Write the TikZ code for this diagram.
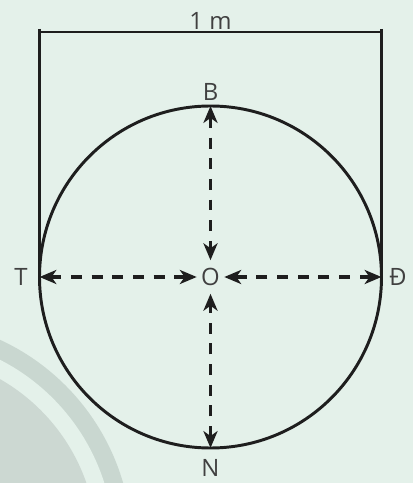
\documentclass[tikz,border=0pt]{standalone}
\usepackage{fontspec}
\setmainfont{Open Sans}
\usetikzlibrary{arrows.meta}
\definecolor{bgmint}{RGB}{228,241,234}
\definecolor{bandgrey}{RGB}{201,215,208}
\definecolor{discgrey}{RGB}{204,216,210}
\definecolor{inkdark}{RGB}{30,30,30}
\begin{document}
\begin{tikzpicture}[line join=round, >={Stealth[length=12pt,width=10pt,inset=3.5pt]},
	font=\fontsize{17}{20}\selectfont, every node/.style={text=inkdark!85!white},
	dir/.style={<->, draw=inkdark, dash pattern=on 7.8pt off 6.9pt, line width=2.3pt}]
	\def\R{4.275}
	% nen va hinh trang tri
	\fill[bgmint] (-5.2625,-5.15) rectangle (5.0625,6.925);
	\begin{scope}
		\clip (-5.2625,-5.15) rectangle (5.0625,6.925);
		\fill[bandgrey] (-7.6375,-6.725) circle(5.675);
		\fill[bgmint] (-7.6375,-6.725) circle(5.225);
		\fill[discgrey] (-7.6375,-6.725) circle(4.8);
	\end{scope}
	\useasboundingbox (-5.2625,-5.15) rectangle (5.0625,6.925);
	% kich thuoc 1 m
	\draw[inkdark, line width=2.1pt] (-\R,6.2) -- (-\R,0);
	\draw[inkdark, line width=2.1pt] (\R,6.2) -- (\R,0);
	\draw[inkdark, line width=2.1pt] (-\R,6.125) -- (\R,6.125);
	\node (dim) at (0,6.4) {1 m};
	% duong tron
	\draw[inkdark, line width=2.1pt] (0,0) circle(\R);
	\node[inner xsep=3pt, inner ysep=5.5pt] (O) at (0,0) {O};
	\coordinate (pB) at (0,\R);
	\coordinate (pN) at (0,-\R);
	\coordinate (pT) at (-\R,0);
	\coordinate (pD) at (\R,0);
	\node (B) at (0,4.625) {B};
	\node (N) at (0,-4.775) {N};
	\node (T) at (-4.74,0) {T};
	\node (D) at (4.69,0) {Đ};
	\draw[dir] (pB) -- (O);
	\draw[dir] (pN) -- (O);
	\draw[dir] (pT) -- (O);
	\draw[dir] (pD) -- (O);
\end{tikzpicture}
\end{document}
